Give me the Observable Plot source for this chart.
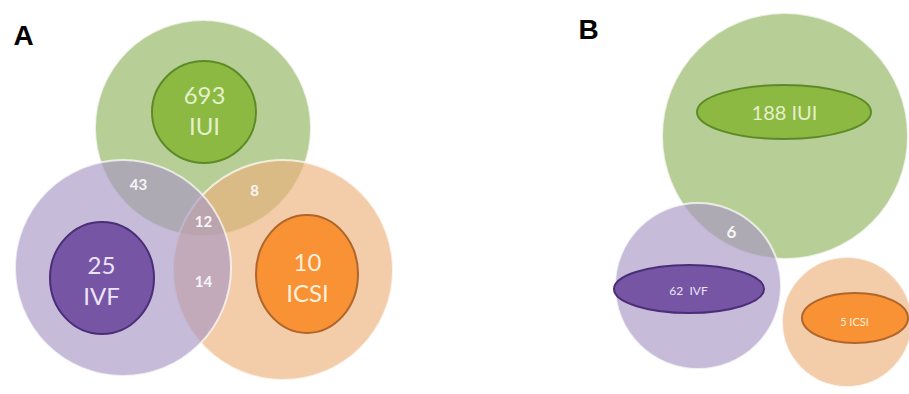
<!DOCTYPE html>
<html>
<head>
<meta charset="utf-8">
<script src="https://cdn.jsdelivr.net/npm/d3@7"></script>
<script src="https://cdn.jsdelivr.net/npm/@observablehq/plot@0.6"></script>
<style>
  html, body { margin: 0; padding: 0; background: #fff; }
  #chart svg { display: block; }
</style>
</head>
<body>
<div id="chart"></div>
<script>
// ---- data ----
const panels = ["A", "B"];
const sets = ["IUI", "IVF", "ICSI"];
const countsA = [693, 25, 10];          // only-in-set counts, panel A
const countsB = [188, 62, 5];           // only-in-set counts, panel B
const overlapNamesA = ["IUI+IVF", "IUI+ICSI", "IUI+IVF+ICSI", "IVF+ICSI"];
const overlapCountsA = [43, 8, 12, 14];
const overlapNamesB = ["IUI+IVF"];
const overlapCountsB = [6];

// ---- diagram layout (abstract units) ----
const bigA = [ // outer sets
  {set: "IUI",  cx: 203, cy: 128, rx: 108, ry: 108},
  {set: "ICSI", cx: 283, cy: 270, rx: 110, ry: 110},
  {set: "IVF",  cx: 123, cy: 268, rx: 108, ry: 108}
];
const innerA = [
  {set: "IUI",  cx: 204, cy: 112, rx: 52, ry: 51},
  {set: "IVF",  cx: 102, cy: 278, rx: 52, ry: 56},
  {set: "ICSI", cx: 307, cy: 274, rx: 51, ry: 59}
];
const bigB = [
  {set: "IUI",  cx: 785, cy: 136, rx: 123, ry: 123},
  {set: "ICSI", cx: 847, cy: 322, rx: 65, ry: 65},
  {set: "IVF",  cx: 698, cy: 286, rx: 83, ry: 83}
];
const innerB = [
  {set: "IUI",  cx: 784, cy: 112, rx: 87, ry: 27},
  {set: "IVF",  cx: 689, cy: 289, rx: 75, ry: 24},
  {set: "ICSI", cx: 855, cy: 318, rx: 53, ry: 25}
];
const labelPosA = [ {x: 204, y: 109}, {x: 101, y: 279}, {x: 307, y: 276} ];
const labelPosB = [ {x: 784, y: 113}, {x: 688, y: 291}, {x: 854, y: 322} ];
const overlapPosA = [ {x: 138, y: 185}, {x: 254, y: 191}, {x: 203, y: 222}, {x: 203, y: 282} ];
const overlapPosB = [ {x: 731, y: 232} ];
const panelPos = [ {x: 23, y: 36}, {x: 588, y: 30} ];

// ---- styles ----
const outerFill = {IUI: "#93b461", IVF: "#a898c4", ICSI: "#edb27d"};
const innerFill = {IUI: "#8cb941", IVF: "#7655a5", ICSI: "#f89234"};
const innerStroke = {IUI: "#5d8a28", IVF: "#4b2e78", ICSI: "#b0652a"};
const textFill = {IUI: "#e4f0cc", IVF: "#ece4f6", ICSI: "#fff0dc"};
const bFont = {IUI: 20, IVF: 12, ICSI: 11};

const outer = [...bigA, ...bigB];
const inner = [...innerA, ...innerB];

const labelsA = sets.map((s, i) => ({set: s, text: `${countsA[i]}\n${s}`, ...labelPosA[i]}));
const labelsB = sets.map((s, i) => ({set: s, text: `${countsB[i]}${s === "IVF" ? "  " : " "}${s}`, ...labelPosB[i]}));
const overlapsA = overlapNamesA.map((n, i) => ({name: n, text: String(overlapCountsA[i]), ...overlapPosA[i]}));
const overlapsB = overlapNamesB.map((n, i) => ({name: n, text: String(overlapCountsB[i]), ...overlapPosB[i]}));
const panelLabels = panels.map((p, i) => ({text: p, ...panelPos[i]}));

const ell = {
  x1: d => d.cx - d.rx, x2: d => d.cx + d.rx,
  y1: d => d.cy - d.ry, y2: d => d.cy + d.ry,
  rx: 1000, ry: 1000
};

const font = "Lato, 'Open Sans', sans-serif";

const chart = Plot.plot({
  width: 909,
  height: 394,
  margin: 0,
  x: {domain: [0, 909], axis: null},
  y: {domain: [0, 394], range: [0, 394], axis: null},
  marks: [
    Plot.rect(outer, {...ell, fill: d => outerFill[d.set], fillOpacity: 0.66,
      stroke: "#ffffff", strokeOpacity: 0.7, strokeWidth: 2}),
    Plot.rect(inner, {...ell, fill: d => innerFill[d.set], stroke: d => innerStroke[d.set], strokeWidth: 2}),
    Plot.text(labelsA, {x: "x", y: "y", text: "text", fill: d => textFill[d.set],
      fontSize: 24, lineHeight: 1.3, fontFamily: font}),
    Plot.text(labelsB, {x: "x", y: "y", text: "text", fill: d => textFill[d.set],
      fontSize: d => bFont[d.set], fontFamily: font}),
    Plot.text(overlapsA, {x: "x", y: "y", text: "text", fill: "#f6f6f6",
      fontSize: 15, fontWeight: "bold", fontFamily: font}),
    Plot.text(overlapsB, {x: "x", y: "y", text: "text", fill: "#f6f6f6",
      fontSize: 17, fontWeight: "bold", fontFamily: font}),
    Plot.text(panelLabels, {x: "x", y: "y", text: "text", fill: "#000",
      fontSize: 28, fontWeight: "bold", fontFamily: "'Liberation Sans', Arial, sans-serif"})
  ]
});
document.getElementById("chart").appendChild(chart);
</script>
</body>
</html>
